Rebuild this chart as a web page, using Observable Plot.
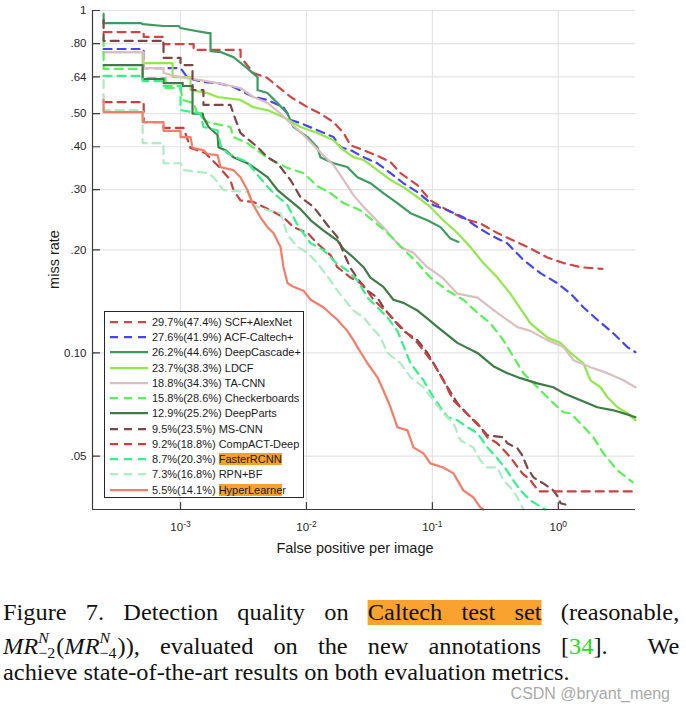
<!DOCTYPE html>
<html><head><meta charset="utf-8">
<script src="https://cdn.jsdelivr.net/npm/d3@7"></script>
<script src="https://cdn.jsdelivr.net/npm/@observablehq/plot@0.6"></script>
<style>
body{margin:0;background:#fff;}
#wrap{position:relative;width:686px;height:713px;overflow:hidden;background:#fff;}
#chart{position:absolute;left:0;top:0;}
#legend{position:absolute;left:104px;top:311px;width:200px;height:187px;box-sizing:border-box;border:1px solid #262626;background:#fff;font-family:"Liberation Sans",Arial,sans-serif;font-size:11px;color:#1a1a1a;}
.row{position:absolute;left:0;height:15.24px;line-height:15.24px;width:100%;white-space:nowrap;}
.row svg{position:absolute;left:5px;top:0;}
.row .t{position:absolute;left:47px;top:0;}
.hl{background:#f7a02c;}
#caption{position:absolute;left:3px;top:600px;width:638px;transform:scaleX(1.06);transform-origin:0 0;font-family:"Liberation Serif","Times New Roman",Times,serif;font-size:23px;line-height:26.65px;color:#111;}
.ln{text-align:justify;text-align-last:justify;}
.ln3{text-align:left;}
.chl{background:#f9a230;}
.mi{font-style:italic;}
.ss{display:inline-block;position:relative;top:4px;font-size:15px;line-height:15px;vertical-align:baseline;text-align:left;text-align-last:left;margin-right:1px;}
.ss span{display:block;}
.ref{color:#1ee01e;}
#wm{position:absolute;right:16px;top:686px;font-family:"Liberation Sans",Arial,sans-serif;font-size:16px;line-height:16px;color:#a9a9a9;}
</style>
</head><body>
<div id="wrap">
  <div id="chart"></div>
  <div id="legend"></div>
  <div id="caption">
    <div class="ln">Figure 7. Detection quality on <span class="chl">Caltech test set</span> (reasonable,</div>
    <div class="ln"><span class="mi">MR</span><span class="ss"><span class="mi">N</span><span>−2</span></span>(<span class="mi">MR</span><span class="ss"><span class="mi">N</span><span>−4</span></span>)), evaluated on the new annotations [<span class="ref">34</span>].&nbsp; We</div>
    <div class="ln3">achieve state-of-the-art results on both evaluation metrics.</div>
  </div>
  <div id="wm">CSDN @bryant_meng</div>
</div>
<script>
// ---- axis ticks ----
const xTicks = [1e-3, 1e-2, 1e-1, 1];
const xTickExp = ["-3", "-2", "-1", "0"];
const yTicks = [1, 0.8, 0.64, 0.5, 0.4, 0.3, 0.2, 0.1, 0.05];
const yTickLabels = ["1", ".80", ".64", ".50", ".40", ".30", ".20", "0.10", ".05"];
const xDomain = [2.0e-4, 4.1];
const yDomain = [0.0349, 1];

// ---- legend ----
const names = ["SCF+AlexNet", "ACF-Caltech+", "DeepCascade+", "LDCF", "TA-CNN", "Checkerboards",
  "DeepParts", "MS-CNN", "CompACT-Deep", "FasterRCNN", "RPN+BF", "HyperLearner"];
const mr2 = [29.7, 27.6, 26.2, 23.7, 18.8, 15.8, 12.9, 9.5, 9.2, 8.7, 7.3, 5.5];
const mr4 = [47.4, 41.9, 44.6, 38.3, 34.3, 28.6, 25.2, 23.5, 18.8, 20.3, 16.8, 14.1];
const highlightLen = [0, 0, 0, 0, 0, 0, 0, 0, 0, 10, 0, 11];
const colors = ["#cd4646", "#4646f0", "#3d9b5f", "#92e84a", "#dbbfc0", "#5af05a",
  "#3e7b45", "#7d4646", "#c84040", "#38f08a", "#aeecc4", "#f27e6a"];
const dashed = [true, true, false, false, false, true, false, true, true, true, true, false];

// ---- curves: [false positives per image, miss rate] ----
const scfAlexNet = [[2.45e-4,0.865],[5.1e-4,0.865],[5.1e-4,0.837],[7.3e-4,0.837],[7.3e-4,0.798],[1.27e-3,0.798],[1.27e-3,0.767],[3.0e-3,0.767],[3.0e-3,0.731],[3.8e-3,0.657],[4.9e-3,0.635],[7.5e-3,0.559],[0.0102,0.522],[0.0129,0.50],[0.0164,0.472],[0.0197,0.439],[0.0224,0.404],[0.0284,0.391],[0.0387,0.373],[0.0465,0.361],[0.0558,0.335],[0.0761,0.309],[0.0964,0.279],[0.132,0.261],[0.176,0.247],[0.24,0.239],[0.328,0.224],[0.439,0.213],[0.6,0.202],[0.818,0.190],[1.10,0.183],[1.5,0.178],[2.24,0.176]];
const acfCaltech = [[2.45e-4,0.772],[5.1e-4,0.772],[5.1e-4,0.679],[1e-3,0.679],[1.14e-3,0.635],[1.52e-3,0.618],[1.97e-3,0.614],[2.63e-3,0.598],[3.79e-3,0.559],[4.9e-3,0.548],[6.57e-3,0.522],[7.07e-3,0.50],[7.47e-3,0.479],[8.97e-3,0.469],[0.0122,0.447],[0.0164,0.427],[0.0186,0.399],[0.0224,0.391],[0.0284,0.373],[0.0366,0.358],[0.0465,0.335],[0.0589,0.313],[0.0761,0.295],[0.0913,0.279],[0.102,0.270],[0.132,0.261],[0.176,0.249],[0.228,0.233],[0.289,0.221],[0.393,0.209],[0.528,0.187],[0.72,0.171],[0.98,0.160],[1.25,0.149],[1.58,0.136],[2.04,0.125],[2.74,0.114],[3.54,0.104],[4.1,0.1005]];
const deepCascade = [[2.45e-4,0.977],[2.45e-4,0.919],[4.82e-4,0.919],[5.0e-4,0.913],[7.33e-4,0.901],[9.64e-4,0.901],[1e-3,0.889],[1.2e-3,0.877],[1.67e-3,0.859],[1.73e-3,0.859],[1.73e-3,0.761],[2.08e-3,0.756],[2.63e-3,0.731],[3.16e-3,0.693],[4.09e-3,0.639],[4.09e-3,0.586],[4.9e-3,0.574],[5.89e-3,0.537],[7.07e-3,0.50],[7.88e-3,0.457],[0.0102,0.427],[0.0122,0.399],[0.0129,0.373],[0.0164,0.358],[0.0211,0.349],[0.0254,0.326],[0.0322,0.313],[0.0408,0.293],[0.0527,0.274],[0.067,0.256],[0.0913,0.244],[0.116,0.233],[0.139,0.216],[0.161,0.211]];
const ldcf = [[2.45e-4,0.756],[5e-4,0.756],[5e-4,0.702],[8.64e-4,0.702],[8.64e-4,0.639],[1.2e-3,0.639],[1.2e-3,0.586],[1.64e-3,0.574],[1.97e-3,0.559],[2.99e-3,0.548],[3.79e-3,0.522],[4.9e-3,0.512],[6.57e-3,0.488],[8.97e-3,0.457],[0.0122,0.439],[0.0164,0.418],[0.0197,0.391],[0.0236,0.373],[0.0284,0.366],[0.0366,0.342],[0.0465,0.320],[0.0589,0.305],[0.0761,0.285],[0.0964,0.267],[0.122,0.244],[0.158,0.224],[0.2,0.204],[0.254,0.183],[0.328,0.166],[0.416,0.149],[0.528,0.131],[0.6,0.122],[0.818,0.111],[1.04,0.107],[1.25,0.100],[1.58,0.0933],[1.8,0.0832],[2.16,0.0794],[2.46,0.0742],[2.95,0.0694],[3.54,0.0666],[4.1,0.0636]];
const taCnn = [[2.45e-4,0.756],[5.1e-4,0.756],[5.1e-4,0.679],[7.33e-4,0.679],[7.33e-4,0.657],[1e-3,0.639],[1.44e-3,0.626],[1.97e-3,0.614],[2.99e-3,0.594],[3.79e-3,0.559],[4.9e-3,0.537],[6.22e-3,0.50],[7.47e-3,0.469],[8.97e-3,0.442],[0.0114,0.404],[0.0136,0.378],[0.0164,0.354],[0.0197,0.320],[0.0236,0.289],[0.0284,0.267],[0.0408,0.233],[0.0558,0.204],[0.0707,0.196],[0.0913,0.178],[0.122,0.165],[0.158,0.149],[0.228,0.145],[0.328,0.131],[0.473,0.119],[0.6,0.116],[0.818,0.109],[1.10,0.104],[1.32,0.0952],[1.8,0.0908],[2.46,0.0873],[3.29,0.0832],[4.1,0.0794]];
const checkerboards = [[2.45e-4,0.831],[2.45e-4,0.675],[5e-4,0.675],[5e-4,0.635],[7.6e-4,0.635],[7.6e-4,0.594],[1e-3,0.594],[1.04e-3,0.548],[1.27e-3,0.537],[1.36e-3,0.50],[1.64e-3,0.472],[2.49e-3,0.457],[2.63e-3,0.427],[3.4e-3,0.410],[4.9e-3,0.371],[7.07e-3,0.347],[9.47e-3,0.335],[0.0122,0.307],[0.0155,0.293],[0.0197,0.274],[0.0268,0.261],[0.034,0.243],[0.044,0.224],[0.0558,0.205],[0.0761,0.183],[0.0964,0.166],[0.132,0.152],[0.176,0.143],[0.228,0.131],[0.289,0.122],[0.366,0.109],[0.439,0.0975],[0.528,0.0873],[0.682,0.0794],[0.865,0.0727],[1.10,0.0671],[1.25,0.0666],[1.5,0.0623],[1.9,0.0567],[2.28,0.0509],[2.95,0.0454],[3.9,0.0419]];
const deepParts = [[2.45e-4,0.693],[5e-4,0.693],[5e-4,0.631],[7.33e-4,0.631],[7.33e-4,0.614],[1.04e-3,0.614],[1.04e-3,0.602],[1.245e-3,0.602],[1.245e-3,0.50],[1.5e-3,0.50],[1.52e-3,0.488],[1.67e-3,0.457],[1.97e-3,0.433],[2.0e-3,0.399],[2.27e-3,0.391],[2.63e-3,0.373],[3.4e-3,0.358],[3.79e-3,0.349],[4.9e-3,0.326],[5.89e-3,0.299],[7.47e-3,0.278],[8.97e-3,0.263],[0.0108,0.244],[0.0136,0.228],[0.0176,0.213],[0.0197,0.201],[0.0236,0.190],[0.0284,0.178],[0.0322,0.166],[0.0408,0.156],[0.049,0.143],[0.0589,0.140],[0.0761,0.133],[0.0913,0.126],[0.11,0.119],[0.158,0.107],[0.228,0.100],[0.305,0.0915],[0.393,0.0873],[0.5,0.0844],[0.682,0.0815],[0.913,0.0794],[1.10,0.0763],[1.5,0.0727],[2.04,0.0694],[2.74,0.068],[3.74,0.0657],[4.1,0.0649]];
const msCnn = [[2.45e-4,0.938],[2.45e-4,0.815],[7.33e-4,0.815],[7.33e-4,0.727],[1e-3,0.727],[1e-3,0.693],[1.245e-3,0.693],[1.245e-3,0.586],[1.52e-3,0.586],[1.52e-3,0.530],[2.49e-3,0.530],[2.63e-3,0.50],[2.99e-3,0.439],[4.09e-3,0.399],[4.9e-3,0.373],[5.89e-3,0.358],[7.47e-3,0.320],[8.97e-3,0.285],[0.0114,0.267],[0.0147,0.236],[0.0176,0.218],[0.0197,0.196],[0.0224,0.177],[0.0254,0.165],[0.0305,0.152],[0.0366,0.145],[0.0408,0.136],[0.049,0.125],[0.0589,0.116],[0.0761,0.109],[0.0913,0.100],[0.11,0.089],[0.132,0.0794],[0.158,0.0713],[0.2,0.0649],[0.24,0.0607],[0.273,0.0575],[0.366,0.0567],[0.393,0.0545],[0.473,0.0527],[0.518,0.0502],[0.567,0.0463],[0.634,0.0433],[0.761,0.0416],[0.913,0.0397],[1.0,0.0379],[1.04,0.0364],[1.137,0.0361]];
const compAct = [[2.45e-4,0.540],[5.1e-4,0.540],[5.1e-4,0.472],[7.33e-4,0.472],[7.33e-4,0.454],[1.056e-3,0.454],[1.2e-3,0.397],[1.58e-3,0.383],[2.0e-3,0.351],[2.49e-3,0.320],[2.63e-3,0.299],[2.99e-3,0.279],[3.79e-3,0.276],[5.18e-3,0.261],[6.57e-3,0.249],[7.88e-3,0.233],[0.0102,0.224],[0.0122,0.209],[0.0155,0.193],[0.0176,0.178],[0.0224,0.166],[0.0268,0.160],[0.0305,0.152],[0.034,0.143],[0.044,0.131],[0.0527,0.122],[0.0634,0.114],[0.0761,0.107],[0.102,0.0933],[0.122,0.0832],[0.147,0.0727],[0.176,0.068],[0.228,0.0623],[0.273,0.0567],[0.328,0.0545],[0.416,0.0496],[0.518,0.0445],[0.6,0.0425],[0.7,0.0394],[4.1,0.0394]];
const fasterRcnn = [[2.45e-4,0.644],[5e-4,0.644],[5e-4,0.622],[7.33e-4,0.622],[7.33e-4,0.602],[1e-3,0.602],[1e-3,0.512],[1.44e-3,0.50],[1.52e-3,0.457],[1.97e-3,0.447],[2.08e-3,0.404],[2.36e-3,0.383],[2.83e-3,0.371],[3.4e-3,0.361],[4.09e-3,0.331],[5.18e-3,0.299],[7.07e-3,0.270],[8.5e-3,0.236],[0.0108,0.209],[0.0136,0.200],[0.017,0.184],[0.0211,0.174],[0.0254,0.163],[0.0305,0.145],[0.0366,0.136],[0.044,0.127],[0.0527,0.116],[0.0589,0.105],[0.067,0.0933],[0.0849,0.0832],[0.102,0.0742],[0.116,0.0694],[0.132,0.0649],[0.158,0.0636],[0.189,0.0607],[0.228,0.0583],[0.273,0.053],[0.328,0.0492],[0.38,0.046],[0.439,0.0425],[0.5,0.0397],[0.6,0.0371],[0.79,0.0349]];
const rpnBf = [[2.45e-4,0.626],[2.45e-4,0.512],[5e-4,0.512],[5e-4,0.410],[7.33e-4,0.410],[7.33e-4,0.358],[1e-3,0.358],[1.056e-3,0.342],[1.64e-3,0.335],[1.83e-3,0.326],[2.19e-3,0.299],[3.4e-3,0.295],[3.79e-3,0.270],[4.9e-3,0.261],[6.22e-3,0.256],[7.07e-3,0.221],[8.5e-3,0.204],[0.0102,0.196],[0.0122,0.183],[0.0155,0.163],[0.0176,0.152],[0.0211,0.140],[0.0236,0.133],[0.0284,0.127],[0.0322,0.120],[0.0387,0.111],[0.044,0.100],[0.0558,0.0933],[0.067,0.0849],[0.0849,0.0794],[0.102,0.0727],[0.122,0.0666],[0.147,0.0623],[0.167,0.0556],[0.211,0.053],[0.24,0.0486],[0.273,0.0463],[0.328,0.0463],[0.366,0.0425],[0.416,0.0405],[0.473,0.0379],[0.528,0.0349]];
const hyperLearner = [[2.45e-4,0.548],[2.45e-4,0.505],[5e-4,0.505],[5e-4,0.472],[7.33e-4,0.472],[7.33e-4,0.445],[1e-3,0.445],[1e-3,0.427],[1.2e-3,0.427],[1.245e-3,0.397],[1.52e-3,0.391],[1.64e-3,0.381],[1.97e-3,0.378],[2.08e-3,0.349],[2.63e-3,0.342],[2.99e-3,0.326],[3.4e-3,0.299],[3.79e-3,0.270],[4.31e-3,0.249],[4.9e-3,0.233],[5.47e-3,0.224],[6.22e-3,0.204],[6.57e-3,0.178],[7.07e-3,0.160],[7.88e-3,0.156],[9.47e-3,0.152],[0.0108,0.143],[0.0136,0.136],[0.0176,0.125],[0.0211,0.116],[0.0236,0.109],[0.0254,0.104],[0.0305,0.0933],[0.0366,0.0849],[0.0408,0.0778],[0.0465,0.0694],[0.0527,0.0607],[0.0634,0.0594],[0.0707,0.053],[0.0849,0.0509],[0.0964,0.0476],[0.122,0.0463],[0.147,0.0445],[0.176,0.0397],[0.211,0.0379],[0.24,0.0354],[0.254,0.0349]];

const curves = [scfAlexNet, acfCaltech, deepCascade, ldcf, taCnn, checkerboards,
  deepParts, msCnn, compAct, fasterRcnn, rpnBf, hyperLearner];

const dash = "8,6";
const axisColor = "#3a3a3a";
const tickShape = {draw(context, l) { context.moveTo(0, 0); context.lineTo(0, -l); }};

const chart = Plot.plot({
  width: 686, height: 565,
  marginLeft: 92, marginRight: 51, marginTop: 10, marginBottom: 56,
  style: {fontFamily: '"Liberation Sans", Arial, sans-serif', fontSize: "11.5px", color: "#262626", background: "#fff"},
  x: {type: "log", domain: xDomain},
  y: {type: "log", domain: yDomain},
  marks: [
    Plot.gridX(xTicks, {stroke: "#e3e3e3", strokeOpacity: 1, strokeWidth: 1.2}),
    Plot.gridY(yTicks, {stroke: "#e3e3e3", strokeOpacity: 1, strokeWidth: 1.2}),
    ...curves.map((c, i) => Plot.line(c, {
      x: d => d[0], y: d => d[1], stroke: colors[i], strokeWidth: 2.2,
      strokeDasharray: dashed[i] ? dash : null
    })),
    Plot.ruleX([xDomain[0]], {stroke: axisColor, strokeWidth: 1.2}),
    Plot.ruleY([yDomain[0]], {stroke: axisColor, strokeWidth: 1.2}),
    Plot.vector(yTicks, {x: () => xDomain[0], y: d => d, rotate: 90, length: 7, anchor: "start", shape: tickShape, stroke: axisColor, strokeWidth: 1.2}),
    Plot.vector(xTicks, {x: d => d, y: () => yDomain[0], rotate: 0, length: 7, anchor: "start", shape: tickShape, stroke: axisColor, strokeWidth: 1.2}),
    Plot.axisY(yTicks, {tickSize: 0, tickPadding: 6, label: null, tickFormat: d => yTickLabels[yTicks.indexOf(d)]}),
    Plot.axisX(xTicks, {tickSize: 0, tickPadding: 13, label: null, tickFormat: d => "10|" + xTickExp[xTicks.indexOf(d)]})
  ]
});
document.getElementById("chart").appendChild(chart);

const svg = d3.select(chart);
svg.selectAll('g[aria-label="x-axis tick label"] text').each(function() {
  const parts = this.textContent.split("|");
  const t = d3.select(this);
  t.text(parts[0]);
  t.append("tspan").attr("dy", "-0.42em").attr("font-size", "8.5px").text(parts[1]);
});
svg.append("text").attr("transform", "translate(58.5,259.5) rotate(-90)")
  .attr("text-anchor", "middle").attr("font-size", "14.5px").attr("fill", "#1a1a1a").text("miss rate");
svg.append("text").attr("x", 355).attr("y", 552.5)
  .attr("text-anchor", "middle").attr("font-size", "14.5px").attr("fill", "#1a1a1a").text("False positive per image");

// legend
const legend = d3.select("#legend");
names.forEach((name, i) => {
  const row = legend.append("div").attr("class", "row").style("top", (2.9 + i * 15.24) + "px");
  const s = row.append("svg").attr("width", 39).attr("height", 15);
  s.append("line").attr("x1", 0).attr("x2", 38).attr("y1", 7.1).attr("y2", 7.1)
    .attr("stroke", colors[i]).attr("stroke-width", 2.2)
    .attr("stroke-dasharray", dashed[i] ? dash : null);
  const t = row.append("span").attr("class", "t");
  t.append("span").text(`${mr2[i].toFixed(1)}%(${mr4[i].toFixed(1)}%) `);
  if (highlightLen[i] > 0) {
    t.append("span").attr("class", "hl").text(name.slice(0, highlightLen[i]));
    t.append("span").text(name.slice(highlightLen[i]));
  } else {
    t.append("span").text(name);
  }
});
</script>
</body></html>
